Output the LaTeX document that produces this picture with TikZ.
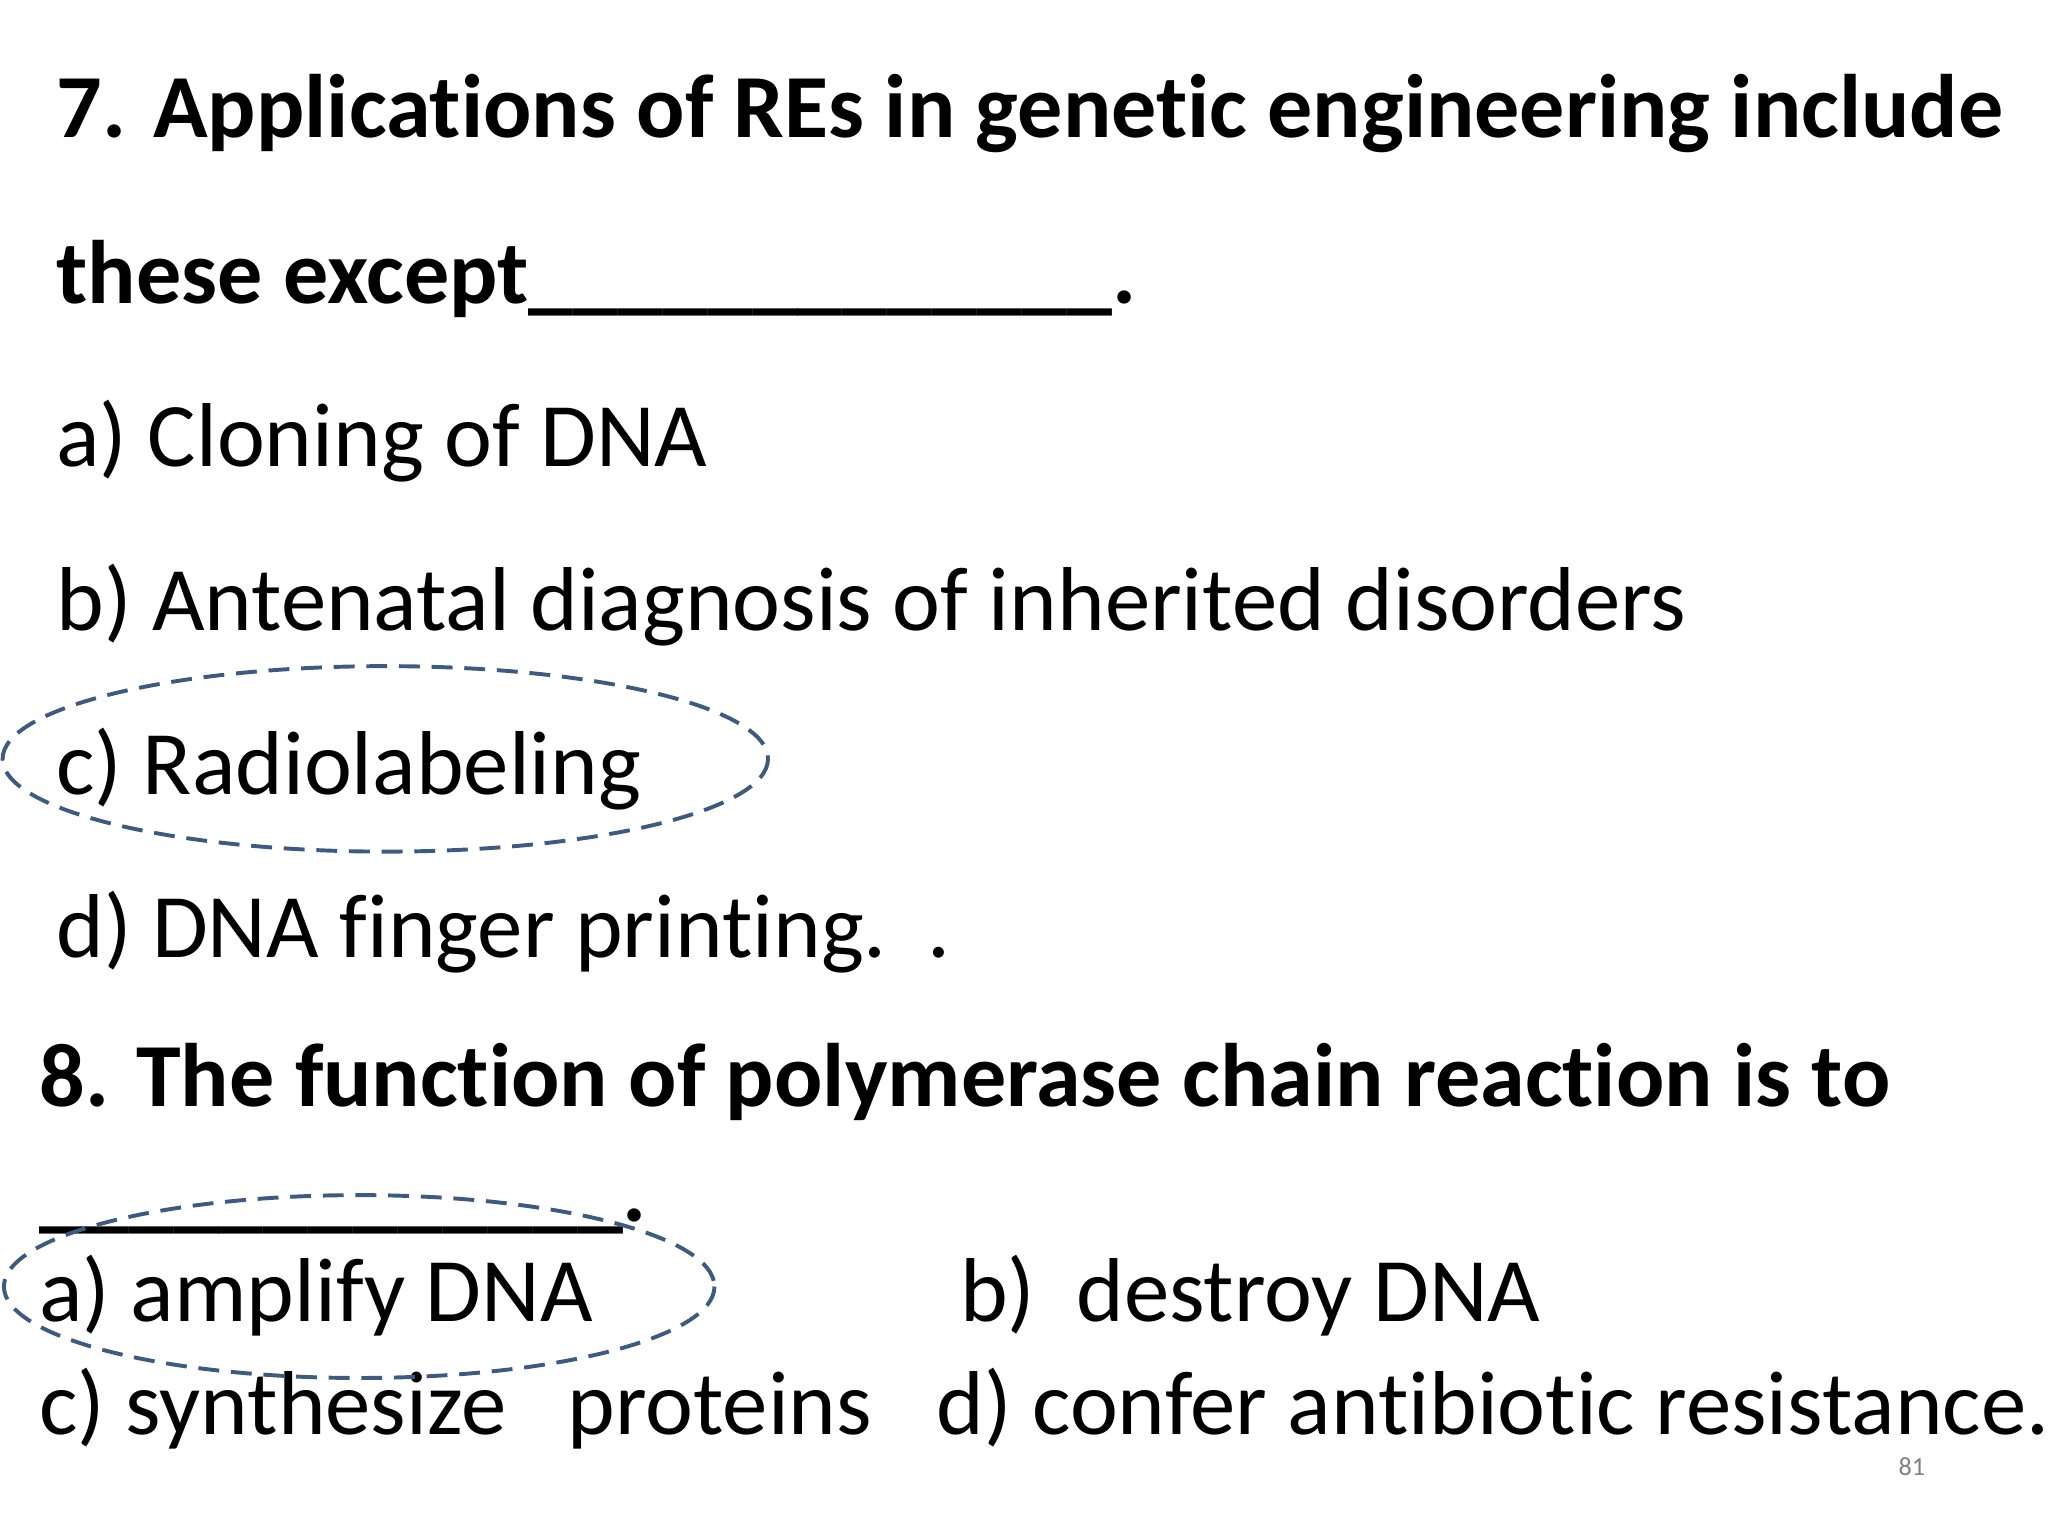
\documentclass[tikz,border=0pt]{standalone}
\usepackage{fontspec}
\setmainfont[Ligatures=CommonOff]{Carlito}
\definecolor{ell}{RGB}{61,90,128}
\begin{document}
\begin{tikzpicture}[x=1pt,y=-1pt,
  q/.style={anchor=base west,inner sep=0pt,font=\fontsize{69}{76}\selectfont\bfseries},
  t/.style={anchor=base west,inner sep=0pt,font=\fontsize{69.5}{76}\selectfont},
  oval/.style={draw=ell,line width=3pt,dash pattern=on 16pt off 9pt}]
\useasboundingbox (0,0) rectangle (1568,1176);
\node[q] (q1) at (43,105) {7. Applications of REs in genetic engineering include};
\node[q] (q1b) at (43,232) {these except\_\_\_\_\_\_\_\_\_\_\_\_\_.};
\node[t] (a1) at (43,357) {a) Cloning of DNA};
\node[t] (b1) at (43,483) {b) Antenatal diagnosis of inherited disorders};
\node[t] (c1) at (43,608) {c) Radiolabeling};
\node[t] (d1) at (43,733) {d) DNA finger printing.\ \ .};
\node[q] (q2) at (30,847) {8. The function of polymerase chain reaction is to};
\node[q] (q2b) at (30,935) {\_\_\_\_\_\_\_\_\_\_\_\_\_.};
\node[t] (a2) at (30,1012) {a) amplify DNA};
\node[t] (b2) at (735,1012) {b)\ \ destroy DNA};
\node[t] (c2) at (30,1098) {c) synthesize\ \ \ proteins};
\node[t] (d2) at (717,1098) {d) confer antibiotic resistance.};
\node[anchor=base east,inner sep=0pt,font=\fontsize{20}{24}\selectfont,text=gray] (pg) at (1474,1130) {81};
\draw[oval] (295,581) ellipse [x radius=293,y radius=71];
\draw[oval] (275,985) ellipse [x radius=272,y radius=70];
\end{tikzpicture}
\end{document}
